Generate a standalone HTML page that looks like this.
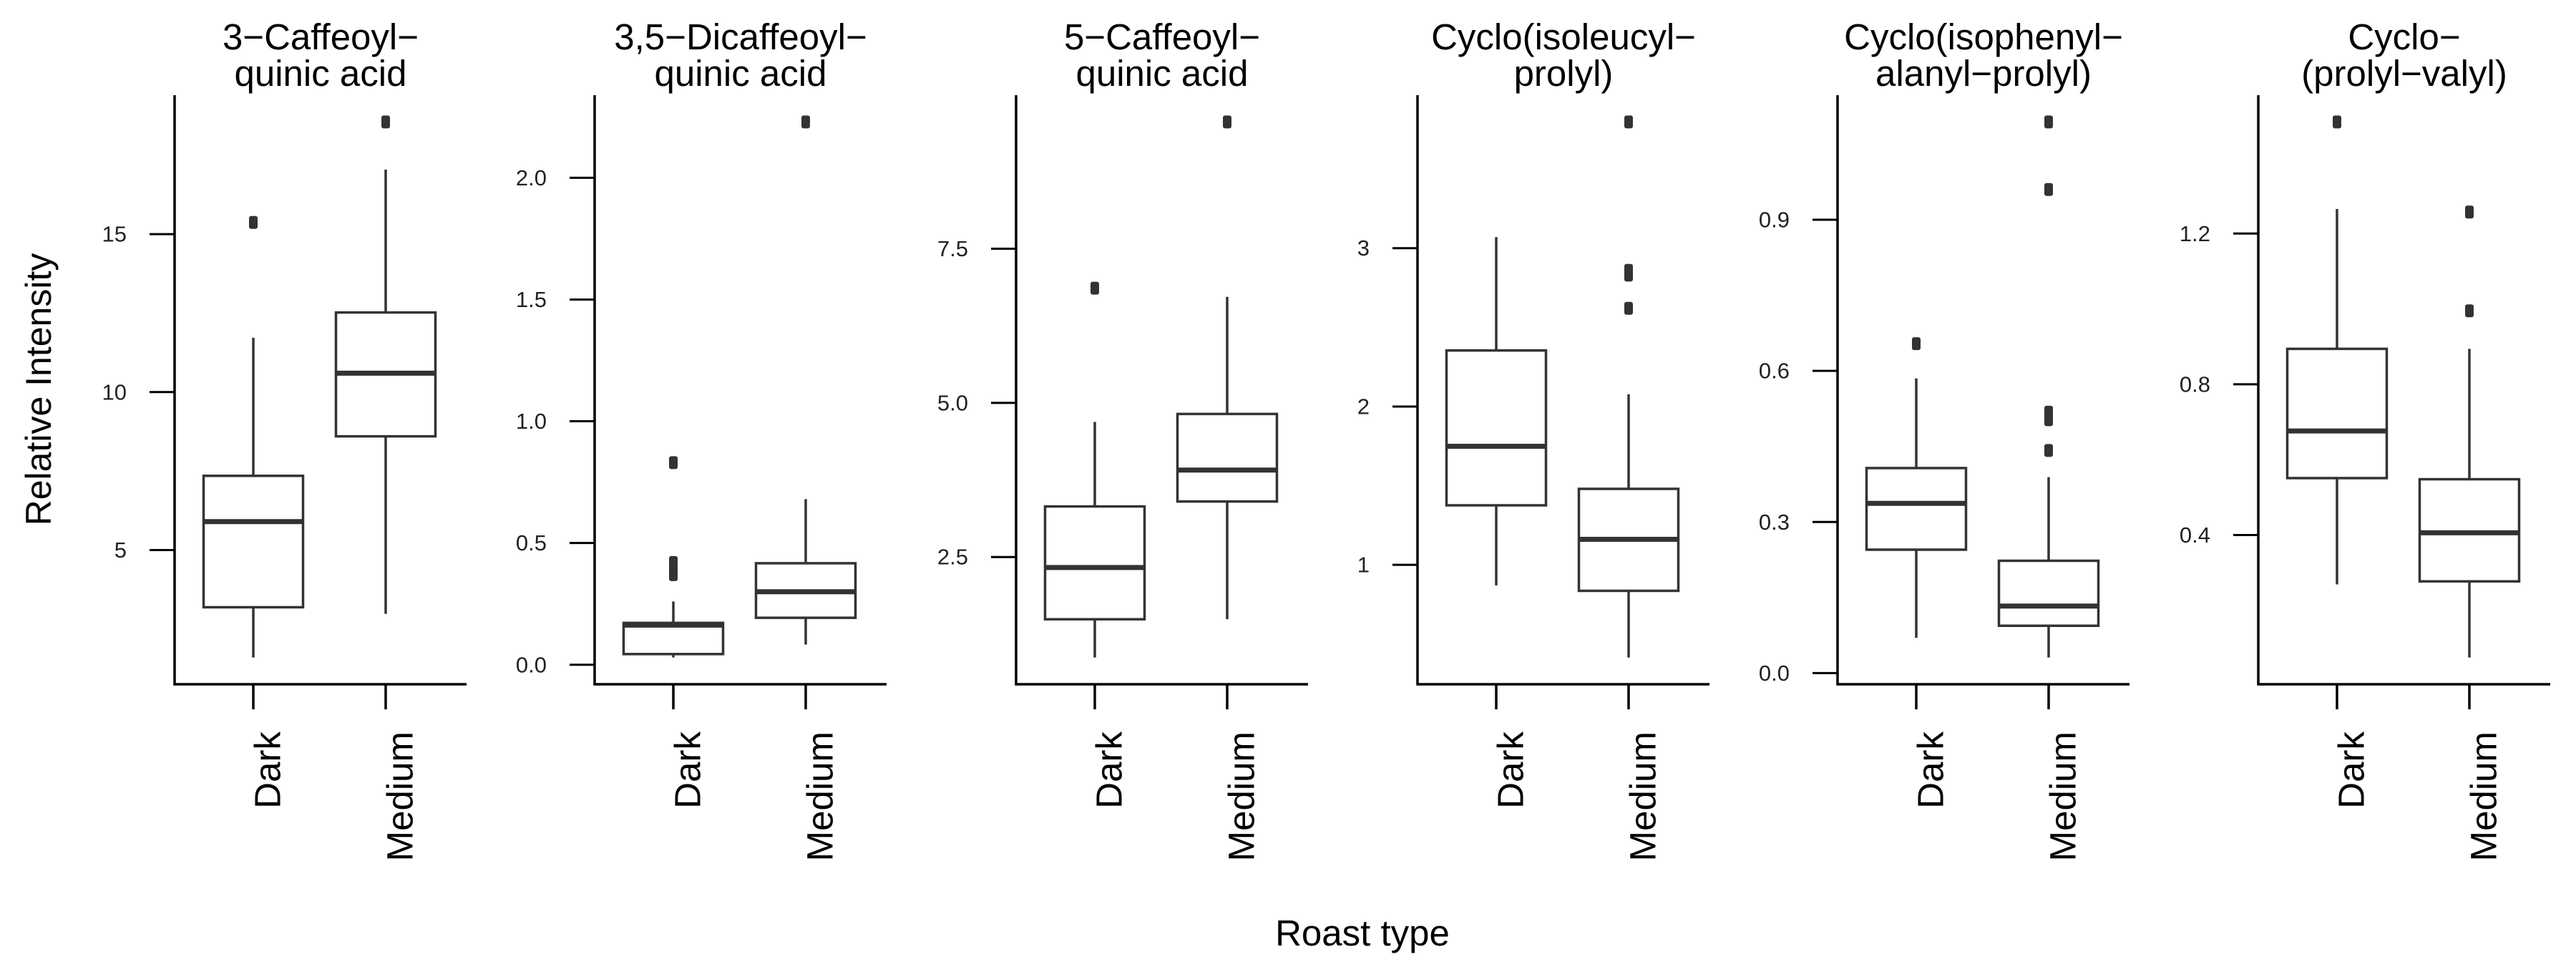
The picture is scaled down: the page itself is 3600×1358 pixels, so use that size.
<!DOCTYPE html>
<html><head><meta charset="utf-8"><style>
html,body{margin:0;padding:0;background:#fff;}
svg{display:block;font-family:"Liberation Sans",Arial,sans-serif;}
</style></head><body>
<svg id="chart" width="3600" height="1358" viewBox="0 0 3600 1358" xmlns="http://www.w3.org/2000/svg">
<text x="54" y="544" font-size="50" text-anchor="middle" dominant-baseline="central" transform="rotate(-90 54 544)" fill="#000">Relative Intensity</text>
<text x="1904" y="1321" font-size="51" text-anchor="middle" fill="#000">Roast type</text>
</svg>
<script>
const titles = [["3\u2212Caffeoyl\u2212","quinic acid"],["3,5\u2212Dicaffeoyl\u2212","quinic acid"],["5\u2212Caffeoyl\u2212","quinic acid"],["Cyclo(isoleucyl\u2212","prolyl)"],["Cyclo(isophenyl\u2212","alanyl\u2212prolyl)"],["Cyclo\u2212","(prolyl\u2212valyl)"]];
const categories = ["Dark","Medium"];
// [whiskerLow, Q1, median, Q3, whiskerHigh] per category
const statsDark = [[1.6,3.19,5.9,7.35,11.72],[0.03,0.044,0.163,0.172,0.26],[0.87,1.49,2.33,3.32,4.69],[0.87,1.376,1.749,2.354,3.07],[0.07,0.245,0.337,0.407,0.585],[0.269,0.551,0.676,0.894,1.265]];
const statsMedium = [[2.98,8.6,10.6,12.52,17.04],[0.083,0.193,0.30,0.417,0.68],[1.49,3.40,3.91,4.82,6.72],[0.415,0.836,1.161,1.48,2.077],[0.031,0.094,0.133,0.223,0.389],[0.075,0.277,0.406,0.548,0.894]];
const outliersDark = [[15.37],[0.37,0.40,0.42,0.83],[6.86],[],[0.654],[1.496]];
const outliersMedium = [[18.55],[2.229],[9.556],[3.797,2.83,2.86,2.62],[1.094,0.96,0.518,0.503,0.442],[1.257,0.995]];
const tickValues = [[5,10,15],[0,0.5,1,1.5,2],[2.5,5,7.5],[1,2,3],[0,0.3,0.6,0.9],[0.4,0.8,1.2]];
const tickLabels = [["5","10","15"],["0.0","0.5","1.0","1.5","2.0"],["2.5","5.0","7.5"],["1","2","3"],["0.0","0.3","0.6","0.9"],["0.4","0.8","1.2"]];

const NS="http://www.w3.org/2000/svg";
const svg=document.getElementById('chart');
const axisX=[244,831,1420,1981,2568,3156];
const TOP=133, BOT=956, PW=408;
function mk(tag,attrs,parent){const e=document.createElementNS(NS,tag);for(const k in attrs)e.setAttribute(k,attrs[k]);(parent||svg).appendChild(e);return e;}

titles.forEach((t,i)=>{
  const ax=axisX[i];
  const g=mk('g',{});
  
  
  let all=[].concat(statsDark[i],statsMedium[i],outliersDark[i],outliersMedium[i]);
  let mn=Math.min(...all), mx=Math.max(...all), pad=(mx-mn)*0.05;
  mn-=pad; mx+=pad;
  const y=v=>BOT-(v-mn)/(mx-mn)*(BOT-TOP);
  const xc=k=>ax+110+k*185;
  const cx=ax+PW/2;
  const tt=mk('text',{x:cx,y:69,'font-size':51,'text-anchor':'middle',fill:'#000'},g);
  
  
  tt.textContent=t[0];
  const tt2=mk('text',{x:cx,y:120,'font-size':51,'text-anchor':'middle',fill:'#000'},g);
  
  
  tt2.textContent=t[1];
  const ya=mk('line',{x1:ax,y1:TOP,x2:ax,y2:BOT+1.5,stroke:'#000','stroke-width':3.5},g);
  
  
  const xa=mk('line',{x1:ax-1.5,y1:BOT,x2:ax+PW,y2:BOT,stroke:'#000','stroke-width':3.5},g);
  
  
  tickValues[i].forEach((v,j)=>{
    const tk=mk('line',{x1:ax-35,y1:y(v),x2:ax,y2:y(v),stroke:'#000','stroke-width':3},g);
    
    
    const tl=mk('text',{x:ax-67,y:y(v),'font-size':31,'text-anchor':'end','dominant-baseline':'central',fill:'#222'},g);
    
    
    tl.textContent=tickLabels[i][j];
  });
  [statsDark[i],statsMedium[i]].forEach((s,k)=>{
    const x=xc(k);
    const tk=mk('line',{x1:x,y1:BOT,x2:x,y2:991,stroke:'#000','stroke-width':3.5},g);
    
    
    const lx=x+20;
    const cl=mk('text',{x:lx,y:1022,'font-size':51,'text-anchor':'end','dominant-baseline':'central',fill:'#000',transform:`rotate(-90 ${lx} 1022)`},g);
    
    
    cl.textContent=categories[k];
    const w1=mk('line',{x1:x,y1:y(s[0]),x2:x,y2:y(s[1]),stroke:'#333','stroke-width':3.5},g);
    
    
    const w2=mk('line',{x1:x,y1:y(s[3]),x2:x,y2:y(s[4]),stroke:'#333','stroke-width':3.5},g);
    
    
    const b=mk('rect',{x:x-69.5,y:y(s[3]),width:139,height:y(s[1])-y(s[3]),fill:'#fff',stroke:'#333','stroke-width':3.5},g);
    
    
    const m=mk('line',{x1:x-69.5,y1:y(s[2]),x2:x+69.5,y2:y(s[2]),stroke:'#333','stroke-width':7},g);
    
    
  });
  [outliersDark[i],outliersMedium[i]].forEach((arr,k)=>{
    arr.forEach(v=>{
      const p=mk('rect',{x:xc(k)-6,y:y(v)-9,width:12,height:18,rx:3,fill:'#333'},g);
      
      
    });
  });
});
</script>
</body></html>
